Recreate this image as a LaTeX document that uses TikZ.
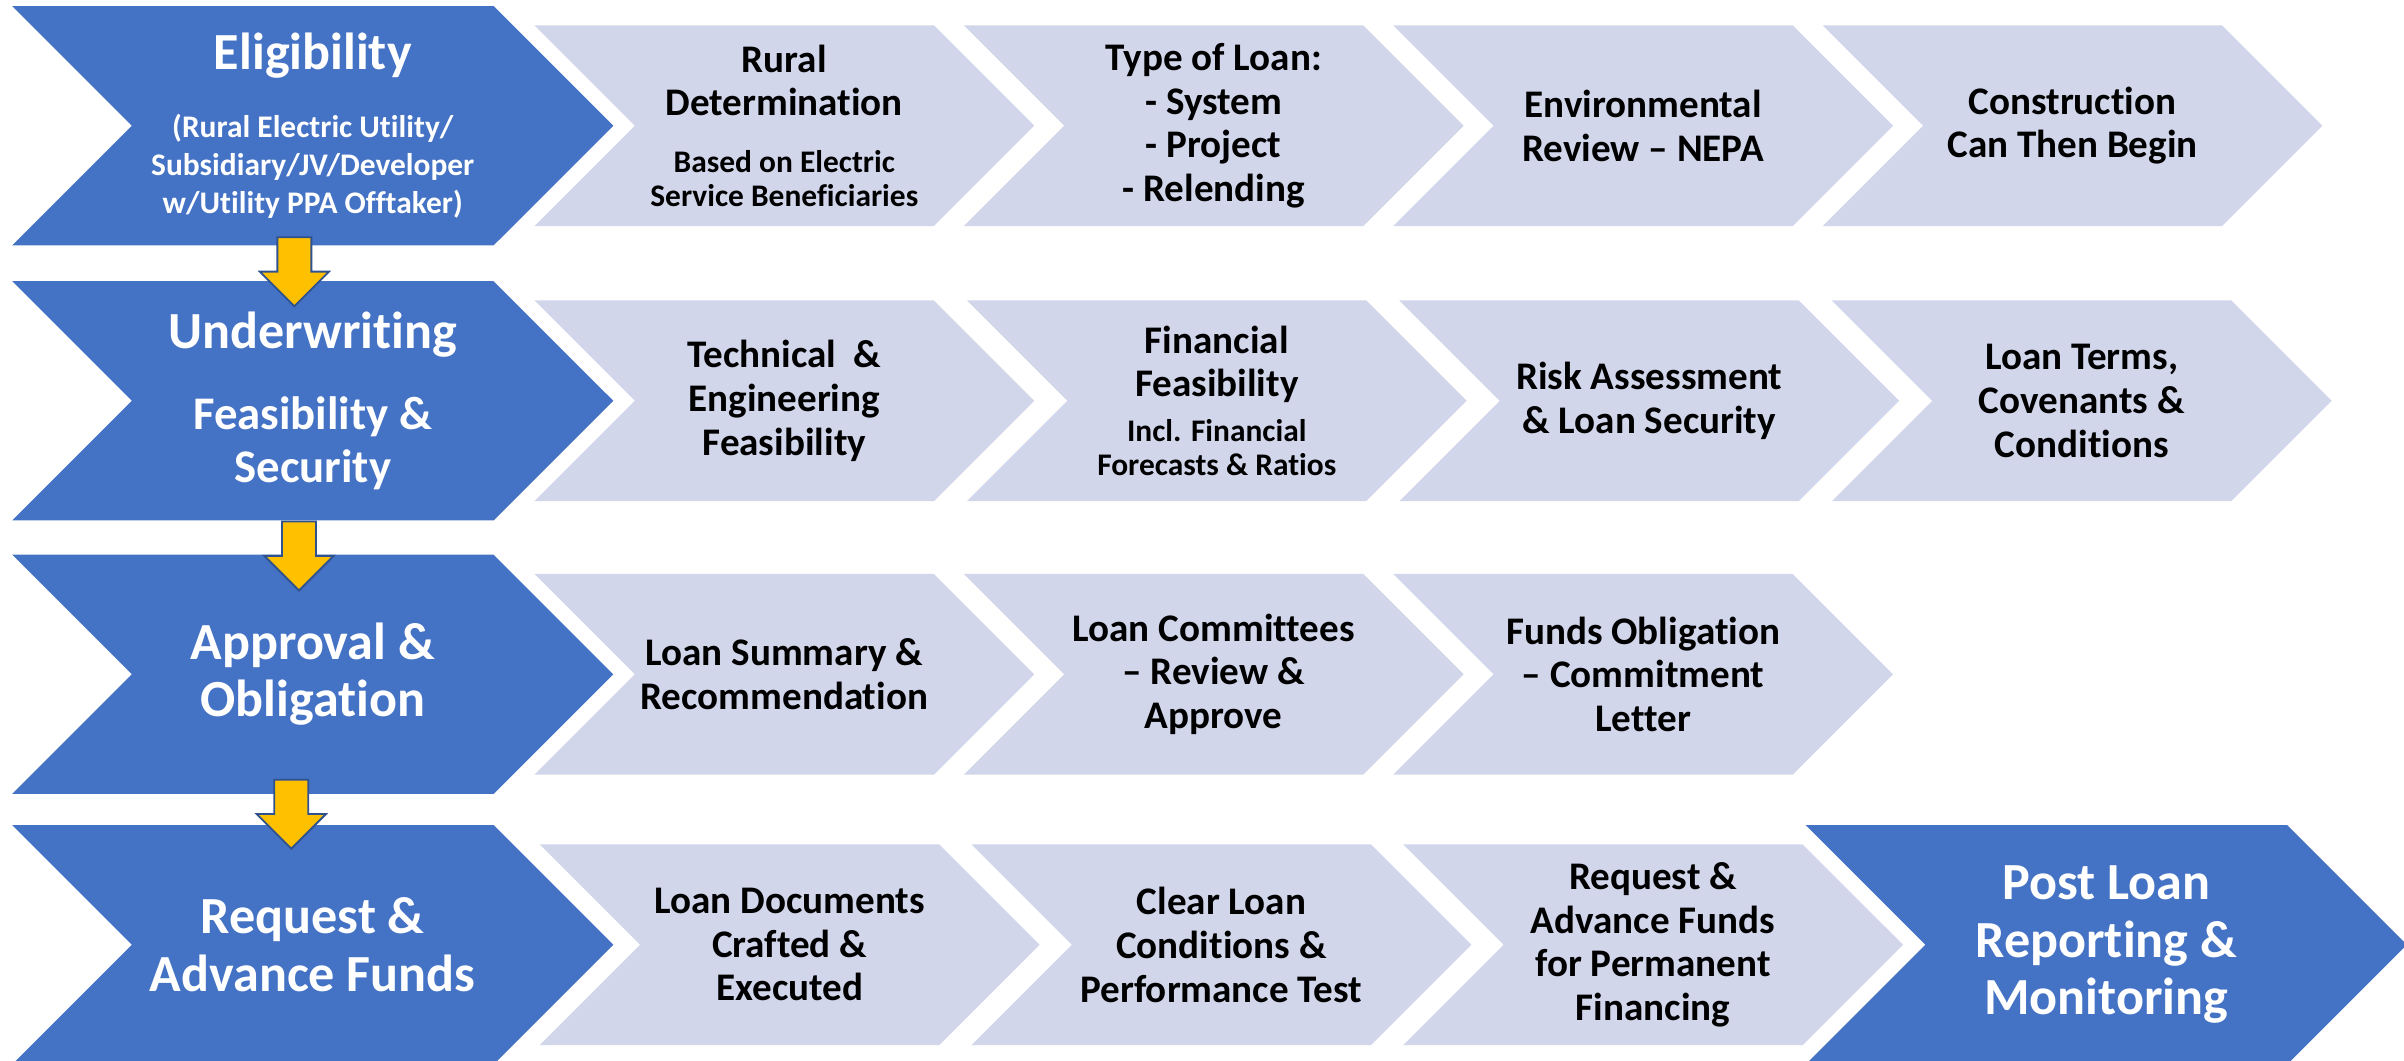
\documentclass[tikz,border=0pt]{standalone}
\usepackage{fontspec}
\setmainfont{Carlito}[Ligatures={TeX,NoCommon}]
\usetikzlibrary{shapes.symbols,shapes.arrows,positioning,calc}

\definecolor{stageblue}{HTML}{4472C4}
\definecolor{taskgrey}{HTML}{D2D6EB}
\definecolor{gold}{HTML}{FFC000}
\definecolor{arrowline}{HTML}{2F528F}

\newcommand{\smalltext}{\fontsize{20.5}{22}\selectfont}
\newcommand{\subtext}{\fontsize{30.5}{34}\selectfont}

\begin{document}
\begin{tikzpicture}[
  x=1pt, y=-1pt,
  stage/.style={signal,signal to=east,signal from=west,signal pointer angle=90,
    fill=stageblue,text=white,minimum height=156pt,
    inner xsep=-32pt,inner ysep=0pt,text width=300pt,align=flush center,
    font=\bfseries\fontsize{34}{37.5}\selectfont},
  task/.style={signal,signal to=east,signal from=west,signal pointer angle=90,
    fill=taskgrey,text=black,minimum height=131pt,
    inner xsep=-22.5pt,inner ysep=0pt,text width=240pt,align=flush center,
    font=\bfseries\fontsize{25.5}{28.5}\selectfont},
  flow/.style={single arrow,draw=arrowline,fill=gold,line width=1.2pt,
    minimum height=45pt,single arrow head extend=11.5pt,
    single arrow head indent=0pt,inner xsep=0pt,inner ysep=10.5pt,rotate=-90}
]

\fill[white] (0,0) rectangle (1568,691.4);
\useasboundingbox (0,0) rectangle (1568,691.4);

% Eligibility
\node[stage] (elig) at (204,82) {Eligibility\par\vspace{19.5pt}%
  {\fontsize{20.5}{25}\selectfont (Rural Electric Utility/\\Subsidiary/JV/Developer\\w/Utility PPA Offtaker)\par}};
\node[task,right=13.5pt of elig] (rural) {Rural\\Determination\par\vspace{15.3pt}%
  {\smalltext Based on Electric\\Service Beneficiaries\par}};
\node[task,right=19pt of rural] (loantype) {Type of Loan:\\- System\\- Project\\- Relending};
\node[task,right=19pt of loantype] (nepa) {Environmental\\Review – NEPA};
\node[task,right=19pt of nepa] (build) {Construction\\Can Then Begin};

% Underwriting
\node[stage,below=23pt of elig] (under) {Underwriting\par\vspace{19pt}%
  {\subtext Feasibility \&\\Security\par}};
\node[task,right=13.5pt of under] (tech) {Technical\ \ \&\\Engineering\\Feasibility};
\node[task,right=21pt of tech] (fin) {Financial\\Feasibility\par\vspace{7.3pt}%
  {\smalltext Incl. Financial\\Forecasts \& Ratios\par}};
\node[task,right=21pt of fin] (risk) {Risk Assessment\\\& Loan Security};
\node[task,right=21pt of risk] (terms) {Loan Terms,\\Covenants \&\\Conditions};

% Approval
\node[stage,below=22pt of under] (appr) {Approval \&\\Obligation};
\node[task,right=13.5pt of appr] (summary) {Loan Summary \&\\Recommendation};
\node[task,right=19pt of summary] (committee) {Loan Committees\\– Review \&\\Approve};
\node[task,right=19pt of committee] (oblig) {Funds Obligation\\– Commitment\\Letter};

% Advance of funds
\node[stage,below=20pt of appr] (advance) {Request \&\\Advance Funds};
\node[task,right=17pt of advance] (docs) {Loan Documents\\Crafted \&\\Executed};
\node[task,right=20.5pt of docs] (clear) {Clear Loan\\Conditions \&\\Performance Test};
\node[task,right=20.5pt of clear] (perm) {Request \&\\Advance Funds\\for Permanent\\Financing};
\node[stage,right=14pt of perm] (post) {Post Loan\\Reporting \&\\Monitoring};

% Steps down
\node[flow] (down1) at ([xshift=-12pt]$(elig.south)!0.5!(under.north)$) {};
\node[flow] (down2) at ([xshift=-9pt,yshift=-6.5pt]$(under.south)!0.5!(appr.north)$) {};
\node[flow] (down3) at ([xshift=-14pt,yshift=2.5pt]$(appr.south)!0.5!(advance.north)$) {};

\end{tikzpicture}
\end{document}
